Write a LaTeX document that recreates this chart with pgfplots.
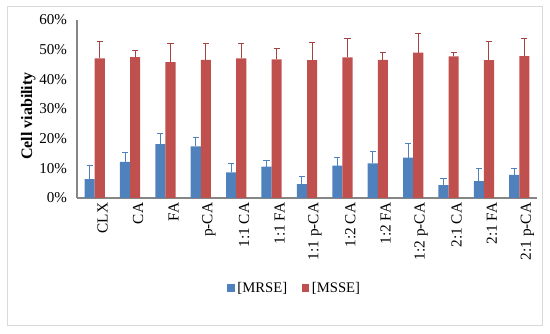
\documentclass[border=0pt]{standalone}
\usepackage{pgfplots}
\usepackage{pgfplotstable}
\pgfplotsset{compat=1.18}
\usepackage{fontspec}
\setmainfont{Liberation Serif}
\definecolor{mblue}{HTML}{4F81BD}
\definecolor{mred}{HTML}{C0504D}
\definecolor{axgray}{HTML}{868686}
\definecolor{frame}{HTML}{D9D9D9}
\pgfplotstableread{
x mrse mrsee msse mssee
0 6.4 4.6 47.1 5.5
1 12.2 3.2 47.5 2.3
2 18.2 3.6 45.8 6.2
3 17.4 2.9 46.6 5.5
4 8.6 3.0 47.1 5.0
5 10.6 2.1 46.7 3.7
6 4.7 2.5 46.5 5.8
7 10.9 2.9 47.4 6.4
8 11.7 3.9 46.6 2.3
9 13.6 4.8 49.0 6.5
10 4.3 2.2 47.7 1.4
11 5.7 4.3 46.5 6.1
12 7.8 2.2 47.8 6.0
}\datatable
\begin{document}
\begin{tikzpicture}
\path (0,0) rectangle (412.5pt,250.5pt);
\draw[frame, line width=0.75pt] (5.25pt,6pt) rectangle (406.5pt,245.25pt);
\begin{axis}[
  at={(57.75pt,102pt)}, anchor=south west,
  scale only axis, width=345pt, height=133.5pt,
  ybar=0pt, bar width=7.6pt,
  xmin=-0.5, xmax=12.5, ymin=0, ymax=60,
  axis x line*=bottom, axis y line*=left,
  axis line style={axgray, line width=0.8pt},
  major tick length=0pt,
  xtick={0,...,12},
  xticklabels={CLX,CA,FA,p-CA,1:1 CA,1:1 FA,1:1 p-CA,1:2 CA,1:2 FA,1:2 p-CA,2:1 CA,2:1 FA,2:1 p-CA},
  xticklabel style={rotate=90, anchor=east, font=\fontsize{11.5}{13}\selectfont, yshift=-6pt},
  ytick={0,10,...,60},
  yticklabel={\pgfmathprintnumber{\tick}\%},
  yticklabel style={font=\fontsize{11.3}{13}\selectfont, xshift=-4pt},
  /pgf/number format/assume math mode=true,
  ylabel={Cell viability},
  ylabel style={font=\bfseries\fontsize{12}{14}\selectfont, at={(axis description cs:-0.106,0.46)}, anchor=center},
  legend style={at={(0.474,-0.506)}, anchor=center, draw=none, fill=none,
    legend columns=2, font=\fontsize{11}{13}\selectfont,
    /tikz/every even column/.append style={column sep=9pt}},
  legend image code/.code={\fill[#1] (0pt,-2.8pt) rectangle (5.6pt,2.8pt);},
]
\addplot[fill=mblue, draw=none,
  error bars/.cd, y dir=plus, y explicit,
  error bar style={mblue, line width=0.75pt},
  error mark options={rotate=90, mblue, mark size=2.3pt, line width=0.75pt}]
  table[x=x, y=mrse, y error=mrsee] {\datatable};
\addlegendentry{{}[MRSE]}
\addplot[fill=mred, draw=none,
  error bars/.cd, y dir=plus, y explicit,
  error bar style={mred!85!black, line width=0.75pt},
  error mark options={rotate=90, mred!85!black, mark size=2.3pt, line width=0.75pt}]
  table[x=x, y=msse, y error=mssee] {\datatable};
\addlegendentry{{}[MSSE]}
\end{axis}
\end{tikzpicture}
\end{document}
